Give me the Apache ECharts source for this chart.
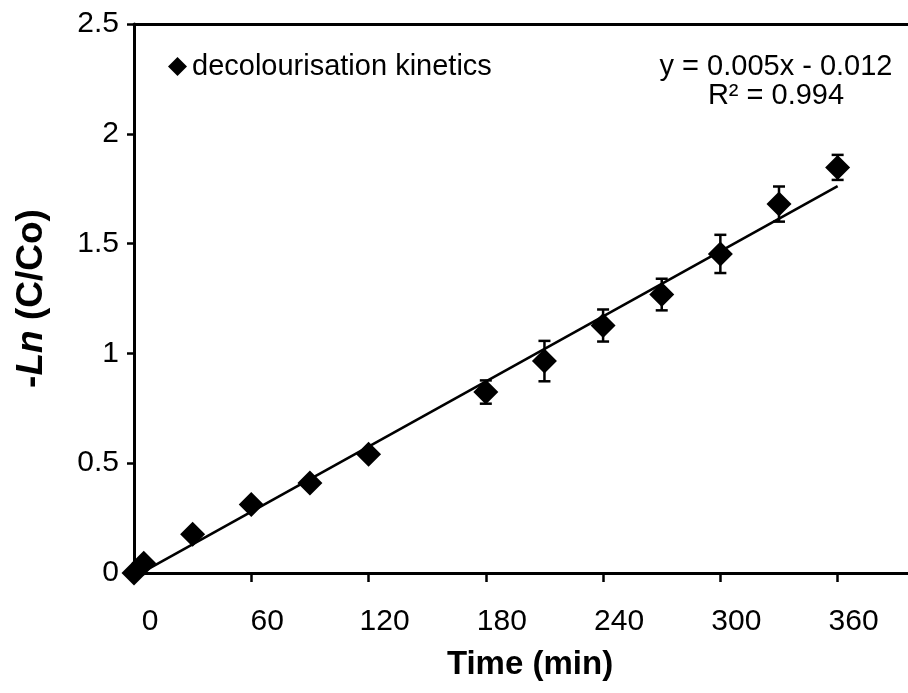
<!DOCTYPE html>
<html>
<head>
<meta charset="utf-8">
<script src="https://cdn.jsdelivr.net/npm/echarts@6/dist/echarts.min.js"></script>
<style>
html,body{margin:0;padding:0;background:#fff;}
#chart{width:908px;height:693px;}
</style>
</head>
<body>
<div id="chart"></div>
<script>
// ---- data ----
const times = [0, 5, 30, 60, 90, 120, 180, 210, 240, 270, 300, 330, 360];
const lnValues = [0, 0.044, 0.176, 0.312, 0.41, 0.541, 0.824, 0.965, 1.127, 1.268, 1.453, 1.68, 1.847];
const errors = [0, 0, 0, 0, 0, 0, 0.053, 0.092, 0.073, 0.072, 0.087, 0.08, 0.057];
const trendTimes = [0, 360];
const trendValues = [-0.018, 1.762];
const xTickLabels = [0, 60, 120, 180, 240, 300, 360];
const yTickLabels = [0, 0.5, 1, 1.5, 2, 2.5];
const seriesName = 'decolourisation kinetics';
const equationLines = ['y = 0.005x - 0.012', 'R² = 0.994'];

const FONT = '"Liberation Sans", Arial, sans-serif';

const scatterData = times.map((t, i) => [t, lnValues[i]]);
const errData = times.map((t, i) => [t, lnValues[i] - errors[i], lnValues[i] + errors[i]]);
const trendData = trendTimes.map((t, i) => [t, trendValues[i]]);

const chart = echarts.init(document.getElementById('chart'), null, {renderer: 'canvas'});

const X_MAX = 396;

const option = {
  backgroundColor: '#fff',
  animation: false,
  textStyle: {fontFamily: FONT, color: '#000'},
  grid: {left: 134, top: 24, bottom: 120, right: 0, show: false, containLabel: false},
  legend: {
    show: true,
    data: [{name: seriesName, icon: 'diamond'}],
    left: 163, top: 47,
    itemWidth: 19, itemHeight: 19, itemGap: 5,
    itemStyle: {color: '#000', opacity: 1},
    textStyle: {fontFamily: FONT, fontSize: 29, color: '#000'}
  },
  xAxis: [{
    type: 'value',
    min: 0, max: X_MAX, interval: 60,
    name: 'Time (min)',
    nameLocation: 'middle', nameGap: 75,
    nameTextStyle: {fontFamily: FONT, fontSize: 33, fontWeight: 'bold', color: '#000', padding: [0, 0, 0, 18]},
    axisLine: {show: true, onZero: false, lineStyle: {color: '#000', width: 3}},
    axisTick: {show: true, length: 9, customValues: xTickLabels, lineStyle: {color: '#000', width: 2.5}},
    splitLine: {show: false},
    axisLabel: {
      fontFamily: FONT, fontSize: 30, color: '#000', margin: 34,
      padding: [0, 0, 0, 32],
      customValues: xTickLabels,
      formatter: v => (xTickLabels.indexOf(v) >= 0 ? String(v) : '')
    }
  }, {
    type: 'value',
    position: 'top',
    min: 0, max: X_MAX,
    axisLine: {show: true, onZero: false, lineStyle: {color: '#000', width: 3}},
    axisTick: {show: false},
    axisLabel: {show: false},
    splitLine: {show: false}
  }],
  yAxis: {
    type: 'value',
    min: 0, max: 2.5, interval: 0.5,
    name: '-{i|Ln} (C/Co)',
    nameLocation: 'middle', nameGap: 84, nameRotate: 90,
    nameTextStyle: {
      fontFamily: FONT, fontSize: 37, fontWeight: 'bold', color: '#000',
      rich: {i: {fontFamily: FONT, fontSize: 37, fontWeight: 'bold', fontStyle: 'italic', color: '#000'}}
    },
    axisLine: {show: true, onZero: false, lineStyle: {color: '#000', width: 3}},
    axisTick: {show: true, length: 7, lineStyle: {color: '#000', width: 2.5}},
    splitLine: {show: false},
    axisLabel: {
      fontFamily: FONT, fontSize: 30, color: '#000', margin: 15,
      formatter: v => (yTickLabels.indexOf(v) >= 0 ? String(v) : '')
    }
  },
  graphic: [{
    type: 'text',
    x: 776, y: 67,
    style: {
      text: equationLines[0],
      fontFamily: FONT, fontSize: 29, fill: '#000',
      align: 'center', verticalAlign: 'middle'
    }
  }, {
    type: 'text',
    x: 776, y: 96,
    style: {
      text: equationLines[1],
      fontFamily: FONT, fontSize: 29, fill: '#000',
      align: 'center', verticalAlign: 'middle'
    }
  }],
  series: [
    {
      type: 'line',
      name: 'trend',
      data: trendData,
      showSymbol: false,
      symbol: 'none',
      clip: false,
      lineStyle: {color: '#000', width: 2.6},
      z: 3,
      silent: true
    },
    {
      type: 'custom',
      name: 'err',
      data: errData,
      clip: false,
      z: 4,
      renderItem: function (params, api) {
        const lo = api.coord([api.value(0), api.value(1)]);
        const hi = api.coord([api.value(0), api.value(2)]);
        const w = 6;
        const st = {stroke: '#000', lineWidth: 2.5};
        return {
          type: 'group',
          children: [
            {type: 'line', shape: {x1: lo[0], y1: lo[1], x2: hi[0], y2: hi[1]}, style: st},
            {type: 'line', shape: {x1: lo[0] - w, y1: lo[1], x2: lo[0] + w, y2: lo[1]}, style: st},
            {type: 'line', shape: {x1: hi[0] - w, y1: hi[1], x2: hi[0] + w, y2: hi[1]}, style: st}
          ]
        };
      }
    },
    {
      type: 'scatter',
      name: seriesName,
      data: scatterData,
      symbol: 'diamond',
      symbolSize: 25,
      clip: false,
      itemStyle: {color: '#000', opacity: 1},
      z: 5
    }
  ]
};
chart.setOption(option);
</script>
</body>
</html>
